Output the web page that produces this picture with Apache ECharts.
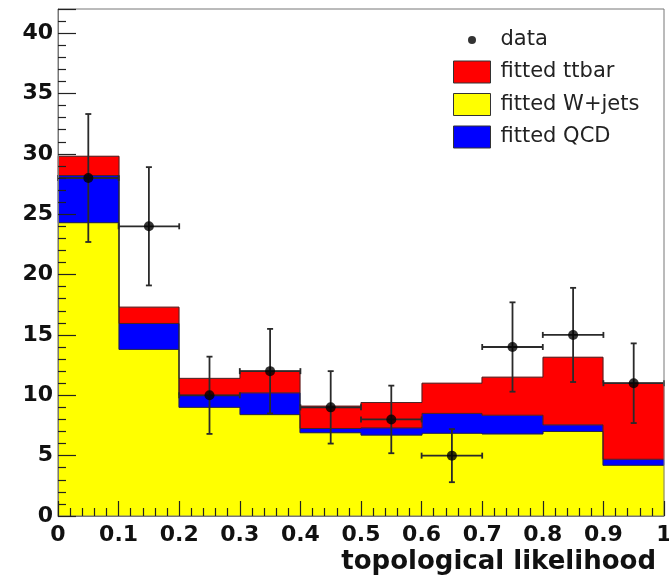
<!DOCTYPE html>
<html><head><meta charset="utf-8">
<script src="https://cdn.jsdelivr.net/npm/echarts@6/dist/echarts.min.js"></script>
<style>html,body{margin:0;padding:0;background:#fff}#c{width:669px;height:579px}</style>
</head><body><div id="c"></div>
<script>
// bin edges of the topological likelihood histogram
const binLow  = [0.0, 0.1, 0.2, 0.3, 0.4, 0.5, 0.6, 0.7, 0.8, 0.9];
const binHigh = [0.1, 0.2, 0.3, 0.4, 0.5, 0.6, 0.7, 0.8, 0.9, 1.0];
const binCenter = [0.05, 0.15, 0.25, 0.35, 0.45, 0.55, 0.65, 0.75, 0.85, 0.95];
const binHalfWidth = [0.05, 0.05, 0.05, 0.05, 0.05, 0.05, 0.05, 0.05, 0.05, 0.05];

// stacked fitted components (bottom to top)
const wjets = [24.3, 13.8, 9.0, 8.4, 6.9, 6.7, 6.85, 6.8, 7.0, 4.2];
const qcd   = [3.9, 2.15, 1.0, 1.8, 0.35, 0.6, 1.65, 1.55, 0.55, 0.5];
const ttbar = [1.6, 1.35, 1.4, 1.8, 1.85, 2.1, 2.5, 3.15, 5.6, 6.3];

// data points with errors
const dataCounts = [28, 24, 10, 12, 9, 8, 5, 14, 15, 11];
const dataErr    = [5.3, 4.9, 3.2, 3.5, 3.0, 2.8, 2.2, 3.7, 3.9, 3.3];

const seriesNames = ['fitted W+jets', 'fitted QCD', 'fitted ttbar'];
const seriesColors = ['#ffff00', '#0000ff', '#ff0000'];
const components = [wjets, qcd, ttbar];

// cumulative levels
const levels = [];
let acc = binLow.map(() => 0);
components.forEach(comp => {
  const lo = acc.slice();
  acc = acc.map((v, i) => v + comp[i]);
  levels.push({lo: lo, hi: acc.slice()});
});

function rectItem(params, api) {
  const p0 = api.coord([api.value(0), api.value(2)]);
  const p1 = api.coord([api.value(1), api.value(3)]);
  const xa = Math.round(p0[0]), xb = Math.round(p1[0]);
  return {
    type: 'rect',
    shape: {x: xa, y: p1[1], width: xb - xa, height: p0[1] - p1[1]},
    style: {fill: api.visual('color'), stroke: api.visual('color'), lineWidth: 0.6}
  };
}

const histSeries = components.map((comp, k) => ({
  name: seriesNames[k],
  type: 'custom',
  renderItem: rectItem,
  itemStyle: {color: seriesColors[k]},
  encode: {x: [0, 1], y: [2, 3]},
  z: 2 + k * 0.1,
  silent: true,
  data: binLow.map((x0, i) => [x0, binHigh[i], levels[k].lo[i], levels[k].hi[i]])
}));

// outline steps of each cumulative level
const outlineData = [];
levels.forEach(lv => {
  binLow.forEach((x0, i) => {
    const next = i < binLow.length - 1 ? lv.hi[i + 1] : lv.hi[i];
    outlineData.push([x0, binHigh[i], lv.hi[i], next]);
  });
});

const outlineSeries = {
  type: 'custom',
  silent: true,
  z: 3,
  encode: {x: [0, 1], y: [2, 3]},
  renderItem: function (params, api) {
    const a = api.coord([api.value(0), api.value(2)]);
    const b = api.coord([api.value(1), api.value(2)]);
    const c = api.coord([api.value(1), api.value(3)]);
    a[0] = Math.round(a[0]); b[0] = Math.round(b[0]); c[0] = Math.round(c[0]);
    return {
      type: 'polyline',
      shape: {points: [a, b, c]},
      style: {stroke: 'rgba(40,40,40,0.85)', lineWidth: 1, fill: null}
    };
  },
  data: outlineData
};

const errSeries = {
  type: 'custom',
  silent: true,
  z: 4,
  encode: {x: 0, y: 1},
  renderItem: function (params, api) {
    const x = api.value(0), y = api.value(1), e = api.value(2), hw = api.value(3);
    const top = api.coord([x, y + e]);
    const bot = api.coord([x, y - e]);
    const left = api.coord([x - hw, y]);
    const right = api.coord([x + hw, y]);
    const st = {stroke: '#2a2a2a', lineWidth: 1.8};
    const cap = 3;
    return {
      type: 'group',
      children: [
        {type: 'line', shape: {x1: top[0], y1: top[1], x2: bot[0], y2: bot[1]}, style: st},
        {type: 'line', shape: {x1: top[0] - cap, y1: top[1], x2: top[0] + cap, y2: top[1]}, style: st},
        {type: 'line', shape: {x1: bot[0] - cap, y1: bot[1], x2: bot[0] + cap, y2: bot[1]}, style: st},
        {type: 'line', shape: {x1: left[0], y1: left[1], x2: right[0], y2: right[1]}, style: st},
        {type: 'line', shape: {x1: left[0], y1: left[1] - cap, x2: left[0], y2: left[1] + cap}, style: st},
        {type: 'line', shape: {x1: right[0], y1: right[1] - cap, x2: right[0], y2: right[1] + cap}, style: st}
      ]
    };
  },
  data: binCenter.map((x, i) => [x, dataCounts[i], dataErr[i], binHalfWidth[i]])
};

const dataSeries = {
  name: 'data',
  type: 'scatter',
  symbol: 'circle',
  symbolSize: 10,
  z: 5,
  silent: true,
  itemStyle: {color: '#000'},
  data: binCenter.map((x, i) => [x, dataCounts[i]])
};

const chart = echarts.init(document.getElementById('c'), null, {renderer: 'canvas'});
chart.setOption({
  animation: false,
  backgroundColor: '#fff',
  grid: {left: 58, right: 5, top: 9, bottom: 63, show: true, borderColor: '#777', borderWidth: 1, z: 10,
         backgroundColor: 'transparent', containLabel: false, outerBoundsMode: 'none'},
  legend: {
    orient: 'vertical', left: 453, top: 29, padding: 0,
    itemWidth: 37, itemHeight: 22, itemGap: 9.5,
    selectedMode: false,
    textStyle: {fontFamily: 'DejaVu Sans', fontSize: 21, color: '#222', padding: [0, 0, 0, 5]},
    data: [
      {name: 'data', icon: 'path://M0 0L0 0M37 22L37 22M14.5 11A4 4 0 1 1 22.5 11A4 4 0 1 1 14.5 11Z', itemStyle: {color: '#000', borderWidth: 0}},
      {name: 'fitted ttbar', icon: 'rect', itemStyle: {color: '#ff0000', borderColor: '#333', borderWidth: 1}},
      {name: 'fitted W+jets', icon: 'rect', itemStyle: {color: '#ffff00', borderColor: '#333', borderWidth: 1}},
      {name: 'fitted QCD', icon: 'rect', itemStyle: {color: '#0000ff', borderColor: '#333', borderWidth: 1}}
    ]
  },
  xAxis: {
    type: 'value', min: 0, max: 1, interval: 0.1, z: 10,
    axisLine: {show: true, lineStyle: {color: '#777', width: 1}},
    axisTick: {show: true, inside: true, length: 15, lineStyle: {color: '#222', width: 1.2}},
    minorTick: {show: true, splitNumber: 5, length: 8, lineStyle: {color: '#222', width: 1.2}},
    splitLine: {show: false},
    axisLabel: {fontFamily: 'DejaVu Sans', fontWeight: 'bold', fontSize: 22, color: '#111', margin: 8, hideOverlap: false},
    name: 'topological likelihood',
    nameLocation: 'end', nameGap: -8,
    nameTextStyle: {fontFamily: 'DejaVu Sans', fontWeight: 'bold', fontSize: 26, color: '#111', align: 'right', verticalAlign: 'top', padding: [33, 0, 0, 0]}
  },
  yAxis: {
    type: 'value', min: 0, max: 42, interval: 5, z: 10,
    axisLine: {show: true, lineStyle: {color: '#777', width: 1}},
    axisTick: {show: true, inside: true, length: 18, lineStyle: {color: '#222', width: 1.2}},
    minorTick: {show: true, splitNumber: 5, length: 8, lineStyle: {color: '#222', width: 1.2}},
    splitLine: {show: false},
    axisLabel: {fontFamily: 'DejaVu Sans', fontWeight: 'bold', fontSize: 22, color: '#111', margin: 5, showMaxLabel: false}
  },
  series: histSeries.concat([outlineSeries, errSeries, dataSeries])
});
</script>
</body></html>
